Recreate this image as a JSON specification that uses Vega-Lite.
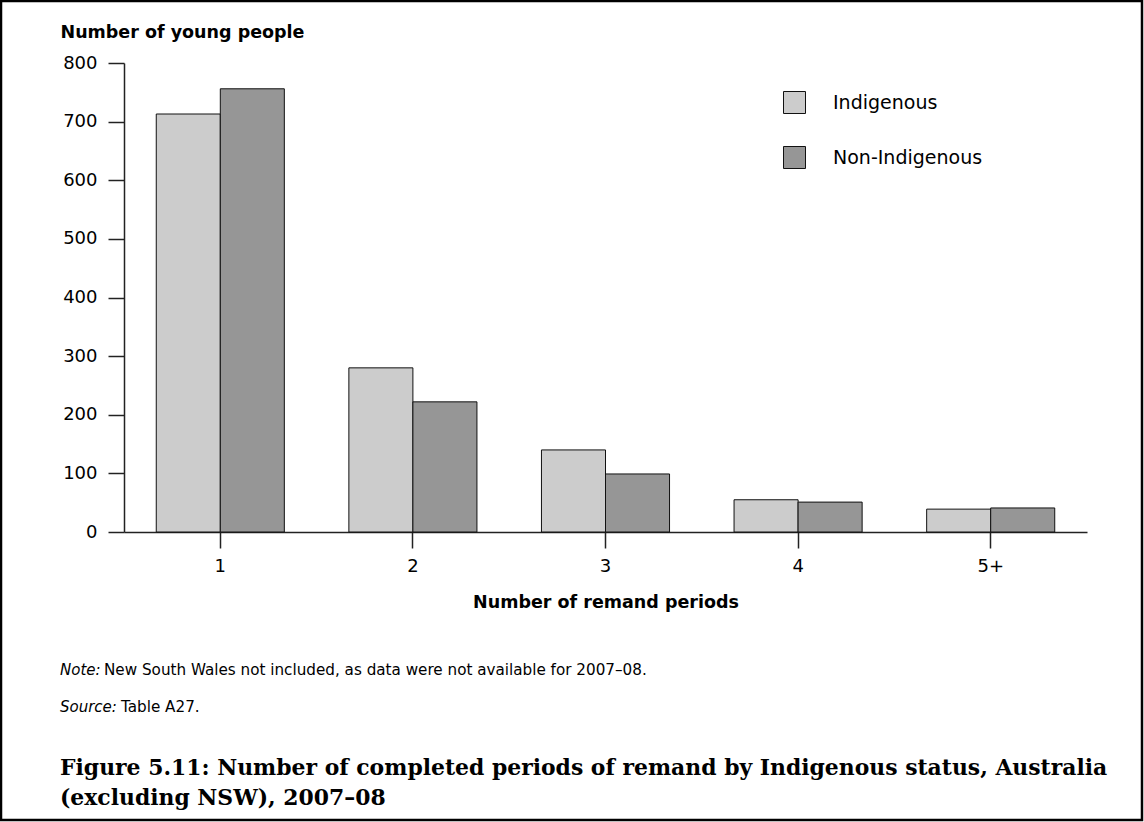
{
  "$schema": "https://vega.github.io/schema/vega-lite/v6.json",
  "width": 963,
  "height": 469,
  "autosize": {"type": "none"},
  "padding": {"left": 124, "top": 63, "right": 57, "bottom": 290},
  "background": "white",
  "config": {"view": {"stroke": null}, "font": "DejaVu Sans"},
  "layer": [
    {
      "data": {
        "values": [
          {"periods": "1", "status": "Indigenous", "count": 713},
          {"periods": "1", "status": "Non-Indigenous", "count": 756},
          {"periods": "2", "status": "Indigenous", "count": 280},
          {"periods": "2", "status": "Non-Indigenous", "count": 222},
          {"periods": "3", "status": "Indigenous", "count": 140},
          {"periods": "3", "status": "Non-Indigenous", "count": 99},
          {"periods": "4", "status": "Indigenous", "count": 55},
          {"periods": "4", "status": "Non-Indigenous", "count": 51},
          {"periods": "5+", "status": "Indigenous", "count": 39},
          {"periods": "5+", "status": "Non-Indigenous", "count": 41}
        ]
      },
      "mark": {"type": "bar", "stroke": "#111111", "strokeWidth": 1},
      "encoding": {
        "x": {
          "field": "periods",
          "type": "nominal",
          "sort": ["1", "2", "3", "4", "5+"],
          "scale": {"paddingInner": 0.335, "paddingOuter": 0.1675},
          "axis": {
            "title": "Number of remand periods",
            "titleFont": "DejaVu Sans",
            "titleFontSize": 17.5,
            "titleFontWeight": "bold",
            "titleColor": "#000000",
            "titlePadding": 18,
            "labelAngle": 0,
            "labelFont": "DejaVu Sans",
            "labelFontSize": 18,
            "labelColor": "#000000",
            "labelPadding": 9,
            "tickSize": 16,
            "tickColor": "#222222",
            "domainColor": "#222222",
            "domainWidth": 1.5,
            "tickWidth": 1.5,
            "grid": false
          }
        },
        "xOffset": {
          "field": "status",
          "type": "nominal",
          "sort": ["Indigenous", "Non-Indigenous"],
          "scale": {"paddingInner": 0, "paddingOuter": 0}
        },
        "y": {
          "field": "count",
          "type": "quantitative",
          "scale": {"domain": [0, 800], "nice": false},
          "axis": {
            "values": [0, 100, 200, 300, 400, 500, 600, 700, 800],
            "title": "Number of young people",
            "titleAngle": 0,
            "titleAlign": "left",
            "titleBaseline": "alphabetic",
            "titleX": -64,
            "titleY": -26,
            "titleFont": "DejaVu Sans",
            "titleFontSize": 17.5,
            "titleFontWeight": "bold",
            "titleColor": "#000000",
            "labelFont": "DejaVu Sans",
            "labelFontSize": 18,
            "labelColor": "#000000",
            "labelPadding": 11,
            "tickSize": 16,
            "tickColor": "#222222",
            "domainColor": "#222222",
            "domainWidth": 1.5,
            "tickWidth": 1.5,
            "grid": false
          }
        },
        "color": {
          "field": "status",
          "type": "nominal",
          "sort": ["Indigenous", "Non-Indigenous"],
          "scale": {"domain": ["Indigenous", "Non-Indigenous"], "range": ["#cccccc", "#969696"]},
          "legend": {
            "title": null,
            "orient": "none",
            "legendX": 659,
            "legendY": 28,
            "padding": 0,
            "symbolType": "square",
            "symbolSize": 484,
            "symbolStrokeColor": "#111111",
            "symbolStrokeWidth": 1,
            "symbolOpacity": 1,
            "labelFont": "DejaVu Sans",
            "labelFontSize": 19,
            "labelColor": "#000000",
            "labelOffset": 27,
            "rowPadding": 28
          }
        }
      }
    },
    {
      "data": {"values": [{}]},
      "mark": {"type": "rect", "fill": null, "stroke": "#000000", "strokeWidth": 2.5},
      "encoding": {
        "x": {"value": -123},
        "x2": {"value": 1018},
        "y": {"value": -62},
        "y2": {"value": 757}
      }
    },
    {
      "data": {"values": [{}]},
      "mark": {"type": "text", "text": "Note:", "font": "DejaVu Sans", "fontStyle": "italic", "fontSize": 15, "align": "left", "baseline": "alphabetic", "color": "#000000"},
      "encoding": {"x": {"value": -64}, "y": {"value": 612}}
    },
    {
      "data": {"values": [{}]},
      "mark": {"type": "text", "text": "New South Wales not included, as data were not available for 2007–08.", "font": "DejaVu Sans", "fontSize": 15.2, "align": "left", "baseline": "alphabetic", "color": "#000000"},
      "encoding": {"x": {"value": -20}, "y": {"value": 612}}
    },
    {
      "data": {"values": [{}]},
      "mark": {"type": "text", "text": "Source:", "font": "DejaVu Sans", "fontStyle": "italic", "fontSize": 15, "align": "left", "baseline": "alphabetic", "color": "#000000"},
      "encoding": {"x": {"value": -64}, "y": {"value": 649}}
    },
    {
      "data": {"values": [{}]},
      "mark": {"type": "text", "text": "Table A27.", "font": "DejaVu Sans", "fontSize": 15.2, "align": "left", "baseline": "alphabetic", "color": "#000000"},
      "encoding": {"x": {"value": -3}, "y": {"value": 649}}
    },
    {
      "data": {"values": [{}]},
      "mark": {"type": "text", "text": ["Figure 5.11: Number of completed periods of remand by Indigenous status, Australia", "(excluding NSW), 2007–08"], "font": "DejaVu Serif", "fontWeight": "bold", "fontSize": 21.9, "lineHeight": 30, "align": "left", "baseline": "alphabetic", "color": "#000000"},
      "encoding": {"x": {"value": -64}, "y": {"value": 712}}
    }
  ]
}
